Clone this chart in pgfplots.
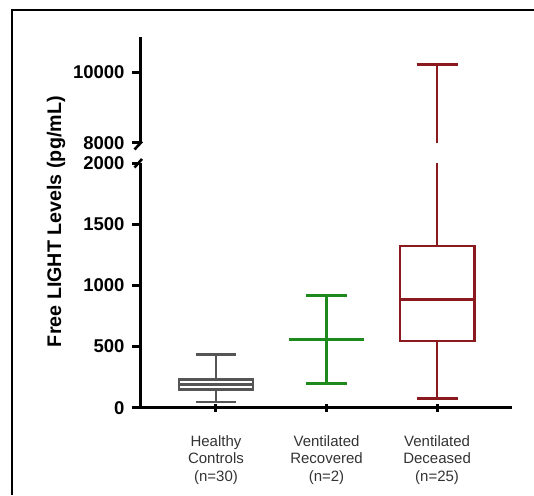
\documentclass[border=0pt]{standalone}
\usepackage{pgfplots}
\pgfplotsset{compat=1.18}
\usepackage{fontspec}
\setmainfont{Liberation Sans}
\definecolor{hc}{HTML}{555555}
\definecolor{vr}{HTML}{1E8A1E}
\definecolor{vd}{HTML}{8A1A1E}
\begin{document}
\begin{tikzpicture}
\useasboundingbox (0pt,0pt) rectangle (534pt,495pt);
\draw[line width=2pt] (12pt,0pt) -- (12pt,485pt) -- (534pt,485pt);
\pgfplotsset{
 brk/.style={
  scale only axis, width=371.5pt, anchor=south west,
  xmin=0.313, xmax=3.673,
  axis y line=left,
  axis line style={line width=3pt},
  x axis line style={-},
  y axis line style={-},
  tick align=outside, major tick length=8pt,
  every tick/.style={black, line width=3pt},
  scaled y ticks=false,
  yticklabel style={font=\bfseries\fontsize{18.5}{18.5}\selectfont, xshift=-4pt},
  /pgf/number format/assume math mode=true,
  /pgf/number format/1000 sep={},
  every axis plot/.append style={line width=2.8pt, mark=none},
 }
}
\begin{axis}[brk, at={(140pt,87.3pt)}, height=244.4pt,
  ymin=0, ymax=2000, ytick={0,500,1000,1500,2000},
  axis x line=bottom, xtick={1,2,3},
  x axis line style={-, shorten <=-6pt},
  xticklabels={{Healthy\\Controls\\(n=30)},{Ventilated\\Recovered\\(n=2)},{Ventilated\\Deceased\\(n=25)}},
  xticklabel style={align=center, font=\fontsize{15}{17.5}\selectfont, text=black!80, yshift=-20pt}]
% Healthy Controls
\addplot[hc] coordinates {(0.665,148) (1.335,148) (1.335,232) (0.665,232)} -- cycle;
\addplot[hc] coordinates {(0.665,189) (1.335,189)};
\addplot[hc] coordinates {(1,46) (1,148)};
\addplot[hc] coordinates {(1,232) (1,437)};
\addplot[hc] coordinates {(0.815,46) (1.185,46)};
\addplot[hc] coordinates {(0.815,437) (1.185,437)};
% Ventilated Recovered
\addplot[vr] coordinates {(1.665,560) (2.335,560)};
\addplot[vr] coordinates {(2,200) (2,917)};
\addplot[vr] coordinates {(1.815,200) (2.185,200)};
\addplot[vr] coordinates {(1.815,917) (2.185,917)};
% Ventilated Deceased
\addplot[vd] coordinates {(2.665,546) (3.335,546) (3.335,1323) (2.665,1323)} -- cycle;
\addplot[vd] coordinates {(2.665,887) (3.335,887)};
\addplot[vd] coordinates {(3,77) (3,546)};
\addplot[vd] coordinates {(3,1323) (3,10219)};
\addplot[vd] coordinates {(2.815,77) (3.185,77)};
\end{axis}
\begin{axis}[brk, at={(140pt,352pt)}, height=105.7pt,
  ymin=8000, ymax=11000, ytick={8000,10000},
  axis x line=none, xtick=\empty]
\addplot[vd] coordinates {(3,1323) (3,10219)};
\addplot[vd] coordinates {(2.815,10219) (3.185,10219)};
\end{axis}
\draw[line width=2.6pt] (134.5pt,345.5pt) -- (142pt,353.5pt);
\draw[line width=2.6pt] (134.5pt,327.5pt) -- (142pt,336pt);
\node[rotate=90, font=\bfseries\fontsize{19.7}{19.7}\selectfont] at (56pt,273.3pt) {Free LIGHT Levels (pg/mL)};
\end{tikzpicture}
\end{document}
